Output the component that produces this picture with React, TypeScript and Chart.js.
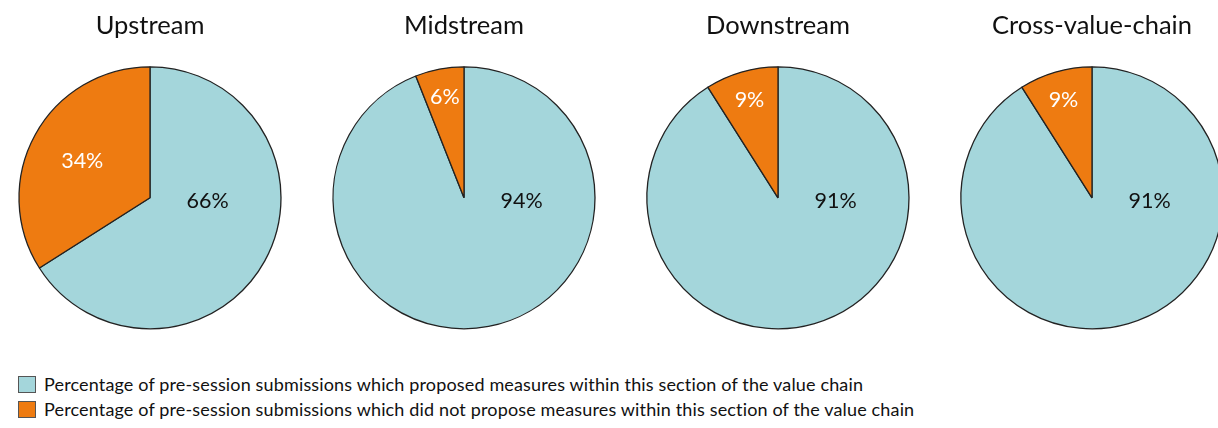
import React, { useEffect, useRef } from "react";
import { Chart, registerables } from "chart.js";

Chart.register(...registerables);

const sections = ["Upstream", "Midstream", "Downstream", "Cross-value-chain"];
const proposed = [66, 94, 91, 91];
const notProposed = [34, 6, 9, 9];
const seriesLabels = [
  "Percentage of pre-session submissions which proposed measures within this section of the value chain",
  "Percentage of pre-session submissions which did not propose measures within this section of the value chain",
];
const colors = ["#A4D6DB", "#EE7B11"];
const labelColors = ["#111111", "#ffffff"];

const FONT = "Lato, 'Open Sans', sans-serif";

const labelPlugin = {
  id: "sliceLabels",
  afterDatasetsDraw(chart: any) {
    const ctx = chart.ctx;
    const meta = chart.getDatasetMeta(0);
    const data = chart.data.datasets[0].data as number[];
    ctx.save();
    ctx.font = `21.5px ${FONT}`;
    ctx.textAlign = "center";
    ctx.textBaseline = "middle";
    meta.data.forEach((arc: any, i: number) => {
      const { x, y, startAngle, endAngle, outerRadius } = arc.getProps(
        ["x", "y", "startAngle", "endAngle", "outerRadius"],
        true
      );
      const v = data[i];
      let lx: number, ly: number;
      if (v > 50) {
        lx = x + outerRadius * 0.44;
        ly = y + 3;
      } else {
        const mid = (startAngle + endAngle) / 2;
        const f = v >= 20 ? 0.59 : 0.78;
        lx = x + Math.cos(mid) * outerRadius * f;
        ly = y + Math.sin(mid) * outerRadius * f;
      }
      ctx.fillStyle = labelColors[i];
      ctx.fillText(`${v}%`, lx, ly);
    });
    ctx.restore();
  },
};

function PieChart({ index }: { index: number }) {
  const ref = useRef<HTMLCanvasElement | null>(null);
  useEffect(() => {
    if (!ref.current) return;
    const chart = new Chart(ref.current, {
      type: "pie",
      data: {
        labels: seriesLabels,
        datasets: [
          {
            data: [proposed[index], notProposed[index]],
            backgroundColor: colors,
            borderColor: "#222222",
            borderWidth: 1.3,
            radius: 131,
          } as any,
        ],
      },
      options: {
        animation: false,
        responsive: false,
        maintainAspectRatio: false,
        layout: { padding: 0 },
        plugins: {
          legend: { display: false },
          tooltip: { enabled: false },
          title: {
            display: true,
            text: sections[index],
            color: "#111111",
            font: { family: FONT, size: 25.5, weight: "normal", lineHeight: 1.2 },
            padding: { top: 10, bottom: 0 },
          },
        },
      },
      plugins: [labelPlugin],
    });
    return () => chart.destroy();
  }, [index]);
  return (
    <canvas
      ref={ref}
      width={300}
      height={355}
      style={{
        position: "absolute",
        left: 150 + 314 * index - 150,
        top: 0,
        width: 300,
        height: 355,
      }}
    />
  );
}

export default function App() {
  return (
    <div
      style={{
        position: "fixed",
        left: 0,
        top: 0,
        width: 1218,
        height: 428,
        overflow: "hidden",
        background: "#ffffff",
      }}
    >
      {sections.map((_, i) => (
        <PieChart key={i} index={i} />
      ))}
      <div
        style={{
          position: "absolute",
          left: 18,
          top: 372,
          fontFamily: FONT,
          fontSize: 18,
          letterSpacing: "0.15px",
          color: "#111111",
          lineHeight: "25px",
        }}
      >
        {seriesLabels.map((t, i) => (
          <div key={i} style={{ display: "flex", alignItems: "center", height: 25, whiteSpace: "nowrap" }}>
            <span
              style={{
                display: "inline-block",
                width: 16,
                height: 15,
                background: colors[i],
                border: "1px solid #555555",
                marginRight: 8,
                flexShrink: 0,
              }}
            />
            <span>{t}</span>
          </div>
        ))}
      </div>
    </div>
  );
}
